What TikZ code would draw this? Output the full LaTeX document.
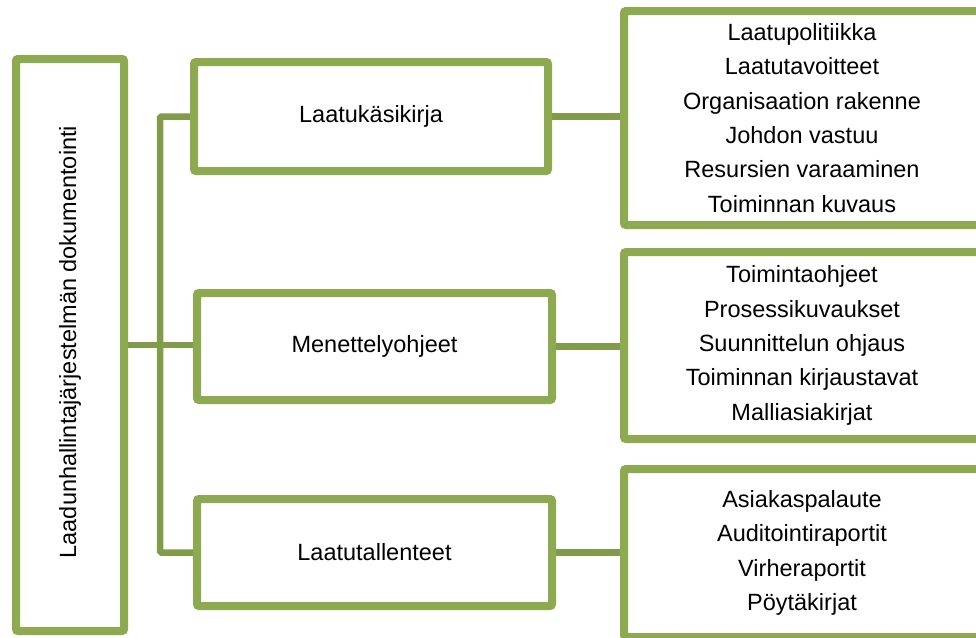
\documentclass[tikz,border=0pt]{standalone}
\usepackage{fontspec}
\setmainfont{Liberation Sans}
\usetikzlibrary{shadows,backgrounds}
\definecolor{boxgreen}{HTML}{8DAA50}
\definecolor{conngreen}{HTML}{809C4A}
\tikzset{
  box/.style={draw=boxgreen, line width=8pt, fill=white, rounded corners=2pt,
    inner sep=0pt, align=center,
    font=\fontsize{23.5}{34.3}\selectfont,
    drop shadow={opacity=0.22, shadow xshift=2.5pt, shadow yshift=-2.5pt}},
  conn/.style={draw=conngreen, line width=6.5pt, rounded corners=1.5pt},
  lbl/.style={font=\fontsize{23.5}{34.3}\selectfont, inner sep=0pt}
}
\begin{document}
\begin{tikzpicture}[x=1pt,y=-1pt]
\useasboundingbox (0,0) rectangle (976,637);
\node[box, minimum width=108pt, minimum height=572pt] (left) at (70,345) {};
\node[lbl, rotate=90] (lefttext) at (70,342) {Laadunhallintajärjestelmän dokumentointi};
\node[box, minimum width=354pt, minimum height=109pt] (m1) at (371,116.5) {Laatukäsikirja};
\node[box, minimum width=355pt, minimum height=107pt] (m2) at (374.5,346.5) {Menettelyohjeet};
\node[box, minimum width=355pt, minimum height=107pt] (m3) at (374.5,552.5) {Laatutallenteet};
\node[box, minimum width=356pt, minimum height=214pt] (r1) at (802,118)
  {Laatupolitiikka\\Laatutavoitteet\\Organisaation rakenne\\Johdon vastuu\\Resursien varaaminen\\Toiminnan kuvaus};
\node[box, minimum width=356pt, minimum height=187pt] (r2) at (802,345.5)
  {Toimintaohjeet\\Prosessikuvaukset\\Suunnittelun ohjaus\\Toiminnan kirjaustavat\\Malliasiakirjat};
\node[box, minimum width=356pt, minimum height=168pt] (r3) at (802,553)
  {Asiakaspalaute\\Auditointiraportit\\Virheraportit\\Pöytäkirjat};
\coordinate (j) at (160,345);
\begin{scope}[on background layer]
\draw[conn] (m1.west) -| (j) |- (m3.west);
\draw[conn] (left.east) -- (j);
\draw[conn] (j) -- (j -| m2.west);
\draw[conn] (m1.east) -- (r1.west |- m1.east);
\draw[conn] (m2.east) -- (r2.west |- m2.east);
\draw[conn] (m3.east) -- (r3.west |- m3.east);
\end{scope}
\end{tikzpicture}
\end{document}
